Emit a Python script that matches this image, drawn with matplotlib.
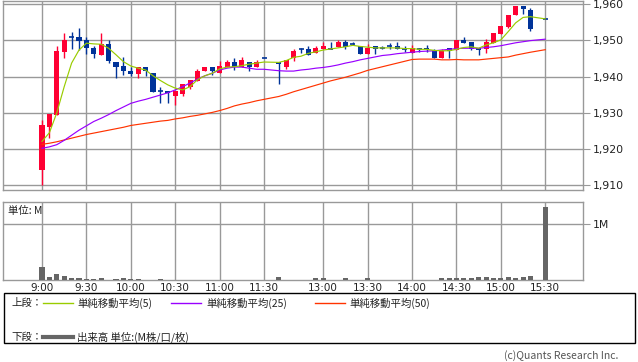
import numpy as np
import matplotlib
matplotlib.use('Agg')
import matplotlib.pyplot as plt
from matplotlib.lines import Line2D
from matplotlib.patches import Rectangle

plt.rcParams['font.family'] = ['Noto Sans CJK JP', 'DejaVu Sans']

# 5-minute slots, '' = lunch separator
times = ['9:00', '9:05', '9:10', '9:15', '9:20', '9:25', '9:30', '9:35', '9:40', '9:45', '9:50', '9:55',
         '10:00', '10:05', '10:10', '10:15', '10:20', '10:25', '10:30', '10:35', '10:40', '10:45', '10:50', '10:55',
         '11:00', '11:05', '11:10', '11:15', '11:20', '11:25', '11:30', '',
         '12:30', '12:35', '12:40', '12:45', '12:50', '12:55',
         '13:00', '13:05', '13:10', '13:15', '13:20', '13:25', '13:30', '13:35', '13:40', '13:45', '13:50', '13:55',
         '14:00', '14:05', '14:10', '14:15', '14:20', '14:25', '14:30', '14:35', '14:40', '14:45', '14:50', '14:55',
         '15:00', '15:05', '15:10', '15:15', '15:20', '15:25', '15:30']

opens = [1914.1, 1926.0, 1929.4, 1946.9, 1950.8, 1950.9, 1950.1, 1948.0, 1945.8, 1949.0, 1944.1, 1942.9,
         1941.6, 1940.7, 1942.7, 1941.1, 1936.0, 1936.0, 1934.7, 1935.3, 1937.1, 1938.9, 1941.4, 1942.6,
         1941.1, 1942.5, 1944.0, 1942.7, 1944.0, 1942.7, 1945.0, None,
         1943.9, 1942.7, 1945.1, 1947.6, 1947.6, 1946.4,
         1947.6, 1947.7, 1948.2, 1949.6, 1949.0, 1948.3, 1946.2, 1948.4, 1948.0, 1948.5, 1948.3, 1947.7,
         1946.6, 1947.5, 1947.9, 1947.0, 1945.2, 1947.9, 1947.3, 1950.1, 1949.5, 1947.8, 1947.5, 1949.3,
         1951.8, 1953.7, 1956.9, 1959.4, 1958.3, None, 1955.8]
highs = [1928.0, 1929.7, 1948.4, 1952.1, 1952.2, 1953.3, 1951.0, 1948.5, 1952.1, 1950.1, 1944.1, 1945.5,
         1942.7, 1942.7, 1942.7, 1941.1, 1937.2, 1936.0, 1936.0, 1938.0, 1939.1, 1942.1, 1942.6, 1942.6,
         1944.4, 1944.6, 1945.2, 1945.4, 1944.0, 1944.5, 1945.0, None,
         1943.9, 1944.6, 1947.6, 1947.8, 1948.4, 1948.4,
         1949.4, 1949.5, 1950.1, 1950.1, 1949.4, 1948.4, 1949.0, 1948.4, 1948.5, 1949.2, 1949.4, 1948.4,
         1948.6, 1947.9, 1948.6, 1947.7, 1947.7, 1947.9, 1950.1, 1951.0, 1949.5, 1947.8, 1950.3, 1951.9,
         1953.9, 1957.0, 1959.4, 1959.4, 1958.8, None, 1955.8]
lows = [1910.0, 1923.0, 1929.4, 1945.2, 1947.7, 1947.3, 1946.2, 1945.2, 1945.8, 1943.8, 1939.6, 1940.5,
        1940.2, 1939.7, 1940.2, 1935.8, 1932.8, 1932.8, 1932.2, 1934.7, 1936.5, 1938.9, 1941.4, 1940.4,
        1941.1, 1942.5, 1941.8, 1942.7, 1941.4, 1942.7, 1945.0, None,
        1937.9, 1942.0, 1944.3, 1946.4, 1945.8, 1946.4,
        1947.6, 1947.7, 1948.2, 1947.6, 1948.8, 1946.2, 1946.2, 1946.3, 1947.5, 1947.5, 1947.7, 1946.8,
        1946.6, 1946.9, 1946.7, 1945.2, 1945.2, 1945.2, 1947.3, 1949.3, 1947.3, 1945.8, 1946.6, 1949.3,
        1951.8, 1953.3, 1956.9, 1957.2, 1952.6, None, 1955.8]
closes = [1926.7, 1929.7, 1947.1, 1950.1, 1950.8, 1949.9, 1947.8, 1946.2, 1948.9, 1944.4, 1942.5, 1941.4,
          1940.8, 1942.7, 1941.4, 1935.8, 1936.0, 1935.4, 1936.0, 1938.0, 1939.1, 1941.6, 1942.6, 1941.4,
          1942.9, 1944.0, 1942.7, 1944.6, 1942.7, 1944.0, 1945.0, None,
          1943.4, 1944.6, 1947.1, 1947.6, 1945.8, 1948.0,
          1948.4, 1947.7, 1949.6, 1948.2, 1949.0, 1946.2, 1948.0, 1947.7, 1948.0, 1948.5, 1947.7, 1947.7,
          1947.8, 1947.5, 1947.5, 1945.2, 1947.0, 1947.1, 1950.1, 1949.3, 1947.5, 1947.3, 1949.5, 1951.9,
          1953.9, 1957.0, 1959.4, 1958.7, 1953.2, None, 1955.8]

ma5 = [1922.1, 1924.5, 1930.0, 1937.2, 1943.7, 1947.3, 1949.2, 1949.0, 1948.9, 1947.8, 1946.0, 1944.1,
       1942.9, 1942.3, 1941.8, 1940.2, 1938.9, 1937.7, 1936.8, 1936.3, 1937.2, 1939.1, 1940.2, 1940.9,
       1942.1, 1942.6, 1942.7, 1943.0, 1943.4, 1943.7, 1944.0, None,
       1943.9, 1944.4, 1945.3, 1945.6, 1946.4, 1946.8,
       1947.3, 1947.6, 1947.9, 1948.2, 1948.6, 1948.3, 1948.1, 1947.9, 1947.9, 1947.9, 1947.9, 1947.7,
       1947.7, 1947.5, 1947.5, 1947.2, 1947.1, 1947.1, 1947.5, 1948.0, 1948.2, 1947.8, 1948.7, 1949.3,
       1950.1, 1952.4, 1954.8, 1956.3, 1956.5, None, 1955.9]
ma25 = [1920.2, 1920.6, 1921.2, 1922.4, 1923.8, 1925.2, 1926.4, 1927.6, 1928.5, 1929.5, 1930.6, 1931.6,
        1932.6, 1933.2, 1933.7, 1934.3, 1934.9, 1935.5, 1936.3, 1937.2, 1938.2, 1939.3, 1940.2, 1940.9,
        1941.8, 1942.3, 1942.6, 1942.6, 1942.3, 1942.0, 1942.0, None,
        1941.6, 1941.5, 1941.5, 1941.8, 1942.0, 1942.3,
        1942.5, 1942.8, 1943.2, 1943.7, 1944.1, 1944.6, 1945.0, 1945.4, 1945.8, 1946.0, 1946.3, 1946.5,
        1946.7, 1946.9, 1947.0, 1947.1, 1947.3, 1947.5, 1947.7, 1947.8, 1947.8, 1947.8, 1948.0, 1948.2,
        1948.5, 1948.9, 1949.3, 1949.6, 1949.9, None, 1950.3]
ma50 = [1921.3, 1921.6, 1922.0, 1922.5, 1923.0, 1923.5, 1924.0, 1924.4, 1924.8, 1925.2, 1925.6, 1926.0,
        1926.5, 1926.8, 1927.1, 1927.4, 1927.7, 1927.9, 1928.3, 1928.6, 1929.0, 1929.3, 1929.7, 1930.1,
        1930.6, 1931.2, 1931.9, 1932.4, 1932.8, 1933.3, 1933.7, None,
        1934.5, 1935.1, 1935.8, 1936.4, 1937.0, 1937.6,
        1938.2, 1938.8, 1939.3, 1939.8, 1940.4, 1941.0, 1941.7, 1942.2, 1942.7, 1943.2, 1943.7, 1944.2,
        1944.7, 1944.8, 1944.8, 1944.8, 1944.6, 1944.6, 1944.7, 1944.6, 1944.6, 1944.6, 1944.8, 1945.0,
        1945.2, 1945.4, 1945.9, 1946.3, 1946.7, None, 1947.4]

# volume in millions
volume = [0.24, 0.06, 0.107, 0.071, 0.036, 0.036, 0.018, 0.018, 0.036, 0.006, 0.018, 0.036,
          0.018, 0.018, 0.008, 0.006, 0.018, 0.006, 0.006, 0.004, 0.004, 0.004, 0.004, 0.004,
          0.004, 0.004, 0.004, 0.004, 0.004, 0.004, 0.004, None,
          0.05, 0.008, 0.008, 0.008, 0.008, 0.03,
          0.03, 0.006, 0.006, 0.03, 0.006, 0.006, 0.03, 0.006, 0.006, 0.006, 0.006, 0.006,
          0.006, 0.006, 0.006, 0.006, 0.03, 0.03, 0.03, 0.03, 0.03, 0.048, 0.048, 0.03,
          0.03, 0.048, 0.03, 0.048, 0.07, None, 1.30]

tick_labels = ['9:00', '9:30', '10:00', '10:30', '11:00', '11:30',
               '13:00', '13:30', '14:00', '14:30', '15:00', '15:30']
price_ticks = [1910, 1920, 1930, 1940, 1950, 1960]

UP = '#ff0033'
DOWN = '#003399'
GRID = '#999999'
W, H = 638, 362


def fa(x0, y0, x1, y1):
    # pixel box (top-left origin) -> figure fraction
    return [x0 / W, 1 - y1 / H, (x1 - x0) / W, (y1 - y0) / H]


o = np.array(opens, dtype=float)
h = np.array(highs, dtype=float)
l = np.array(lows, dtype=float)
c = np.array(closes, dtype=float)
x = np.arange(len(times))
tick_pos = [times.index(t) for t in tick_labels]

fig = plt.figure(figsize=(W / 100, H / 100), dpi=100, facecolor='white')
ax = fig.add_axes(fa(3, 1, 583, 190))
axv = fig.add_axes(fa(3, 201.5, 583, 280))

for a in (ax, axv):
    a.set_xlim(-5.27, 73.1)
    for s in a.spines.values():
        s.set_color(GRID)
        s.set_linewidth(1)
    a.set_xticks(tick_pos)
    a.grid(True, color=GRID, lw=1)
    a.set_axisbelow(True)

# --- candles ---
ok = ~np.isnan(c)
cols = np.where(c > o, UP, DOWN)
bw = 0.68
ax.vlines(x[ok], l[ok], h[ok], colors=cols[ok], lw=1.0, zorder=3)
body_lo = np.minimum(o, c)
body_h = np.abs(c - o)
ax.bar(x[ok], body_h[ok], bottom=body_lo[ok], width=bw, color=cols[ok], lw=0, zorder=4)
flat = ok & (body_h < 0.4)
ax.hlines(c[flat], x[flat] - bw / 2, x[flat] + bw / 2, colors=cols[flat], lw=1.2, zorder=4)

for ma, col in ((ma50, '#ff3300'), (ma25, '#9900ff'), (ma5, '#99cc00')):
    m = np.array(ma, dtype=float)
    k = ~np.isnan(m)
    ax.plot(x[k], m[k], color=col, lw=0.85, zorder=5)

ax.set_ylim(1908.7, 1960.83)
ax.set_yticks(price_ticks)
ax.set_yticklabels([f'{v:,}' for v in price_ticks], family='DejaVu Sans')
ax.yaxis.tick_right()
ax.tick_params(axis='y', length=5, color=GRID, labelsize=7.8, pad=2, labelcolor='#222222')
ax.tick_params(axis='x', length=0, labelbottom=False)

# --- volume ---
v = np.array(volume, dtype=float)
vk = ~np.isnan(v)
axv.bar(x[vk], v[vk], width=bw, color='#666666', lw=0, zorder=3)
axv.set_ylim(0, 1.4)
axv.set_yticks([1.0])
axv.set_yticklabels(['1M'], family='DejaVu Sans')
axv.yaxis.tick_right()
axv.tick_params(axis='y', length=5, color=GRID, labelsize=7.8, pad=2, labelcolor='#222222')
axv.set_xticklabels(tick_labels, family='DejaVu Sans')
axv.tick_params(axis='x', length=0, labelsize=7.5, pad=2, labelcolor='#222222')
axv.text(5 / 580, 0.88, '単位: M', transform=axv.transAxes, fontsize=7.5, va='center', ha='left', color='#222222')

# --- legend box ---
fig.patches.append(Rectangle((4 / W, 1 - 343 / H), 631 / W, 50 / H, transform=fig.transFigure,
                             fill=False, edgecolor='black', lw=1))


def legend_line(x0, x1, y, col, lw):
    fig.add_artist(Line2D([x0 / W, x1 / W], [1 - y / H, 1 - y / H], color=col, lw=lw,
                          transform=fig.transFigure))


def legend_text(px, py, s, **kw):
    fig.text(px / W, 1 - py / H, s, fontsize=7.5, va='center', ha='left', color='#222222', **kw)


legend_text(11, 303, '上段：')
legend_line(43, 73, 303, '#99cc00', 1)
legend_text(77, 303, '単純移動平均(5)')
legend_line(171, 201, 303, '#9900ff', 1)
legend_text(206, 303, '単純移動平均(25)')
legend_line(315, 345, 303, '#ff3300', 1)
legend_text(349, 303, '単純移動平均(50)')
legend_text(11, 337, '下段：')
legend_line(43, 73, 337, '#666666', 3)
legend_text(77, 337, '出来高 単位:(M株/口/枚)')

fig.text(618 / W, 1 - 356 / H, '(c)Quants Research Inc.', fontsize=7.5, ha='right', va='center', color='#555555')

fig.savefig('out.png', dpi=100, facecolor='white')
